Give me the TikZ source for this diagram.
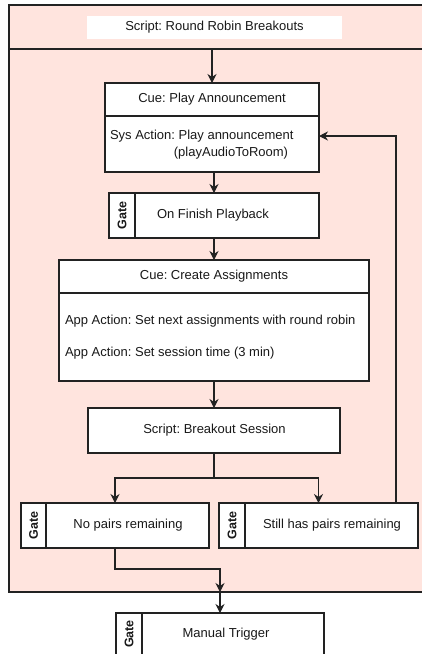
\documentclass[tikz,border=0pt]{standalone}
\usepackage{fontspec}
\setmainfont{Liberation Sans}
\frenchspacing
\usetikzlibrary{arrows.meta}
\definecolor{groupfill}{RGB}{255,228,222}
\definecolor{edgecol}{RGB}{34,34,34}
\tikzset{
  every node/.style={font=\fontsize{13}{15.6}\selectfont, inner sep=0pt, outer sep=0pt, text=black!90},
  box/.style={draw=edgecol, line width=1.1pt, fill=white, rectangle},
  plate/.style={fill=white, draw=none, rectangle},
  gatelbl/.style={rotate=90, font=\fontsize{12.5}{14}\selectfont\bfseries},
  arr/.style={draw=edgecol, line width=1.1pt, -{Stealth[length=9pt,width=9pt,inset=3pt]}},
  ln/.style={draw=edgecol, line width=1.1pt}
}
\begin{document}
\begin{tikzpicture}[x=1pt, y=-1pt]
\useasboundingbox (0,0) rectangle (421,654);

% outer script group with its header band
\node[box, fill=groupfill, minimum width=416pt, minimum height=587pt] (frame) at (217,298.5) {};
\node[box, fill=groupfill, minimum width=416pt, minimum height=44pt] (hdr) at (217,27) {};
\node[plate, minimum width=255pt, minimum height=23pt] (title) at (214.5,27.5) {Script: Round Robin Breakouts};

% cue: play announcement
\node[box, minimum width=214pt, minimum height=89pt] (cue1) at (212,127.5) {};
\draw[ln] (105,116) -- (319,116);
\node (cue1t) at (212,99.5) {Cue: Play Announcement};
\node[anchor=west] (sys1) at (110,136) {Sys Action: Play announcement};
\node (sys2) at (231,153) {(playAudioToRoom)};

% gate: on finish playback
\node[box, minimum width=210pt, minimum height=45pt] (gate1) at (214,215.5) {};
\draw[ln] (135,193) -- (135,238);
\node[gatelbl] (gate1g) at (122,215.5) {Gate};
\node[plate, minimum width=144pt, minimum height=33pt] (gate1t) at (213,215.5) {On Finish Playback};

% cue: create assignments
\node[box, minimum width=310pt, minimum height=121pt] (cue2) at (214,320.5) {};
\draw[ln] (59,293) -- (369,293);
\node (cue2t) at (214,276.5) {Cue: Create Assignments};
\node[anchor=west] (app1) at (65,321) {App Action: Set next assignments with round robin};
\node[anchor=west] (app2) at (65,353) {App Action: Set session time (3 min)};

% script: breakout session
\node[box, minimum width=252pt, minimum height=45pt] (bs) at (214,430.5) {};
\node[plate, minimum width=219pt, minimum height=23pt] (bst) at (214.5,430.5) {Script: Breakout Session};

% gate: no pairs remaining
\node[box, minimum width=188pt, minimum height=45pt] (gL) at (115,525.5) {};
\draw[ln] (46,503) -- (46,548);
\node[gatelbl] (gLg) at (33.5,525.5) {Gate};
\node[plate, minimum width=132pt, minimum height=33pt] (gLt) at (128,525.5) {No pairs remaining};

% gate: still has pairs remaining
\node[box, minimum width=199pt, minimum height=45pt] (gR) at (318.5,525.5) {};
\draw[ln] (245,503) -- (245,548);
\node[gatelbl] (gRg) at (232,525.5) {Gate};
\node[plate, minimum width=166pt, minimum height=33pt] (gRt) at (332,525.5) {Still has pairs remaining};

% gate: manual trigger
\node[box, minimum width=208pt, minimum height=43pt] (mt) at (220,634.5) {};
\draw[ln] (142,613) -- (142,656);
\node[gatelbl] (mtg) at (129,634) {Gate};
\node (mtt) at (226,634) {Manual Trigger};

% connectors
\draw[arr] (cue1.north |- hdr.south) -- (cue1.north);
\draw[arr] (gate1.north |- cue1.south) -- (gate1.north);
\draw[arr] (gate1.south) -- (cue2.north);
\draw[arr] (cue2.south) -- (bs.north);
\draw[arr] (bs.south) -- ++(0,25) -| (gL.north);
\draw[arr] (bs.south) -- ++(0,25) -| (gR.north);
\coordinate (loopIn) at (cue1.east |- sys1);
\draw[arr] (gR.north -| 396,0) |- (loopIn);
\coordinate (exitPt) at (mt.north |- frame.south);
\draw[arr] (gL.south) -- ++(0,21) -| (exitPt);
\draw[arr] (exitPt) -- (mt.north);
\end{tikzpicture}
\end{document}
